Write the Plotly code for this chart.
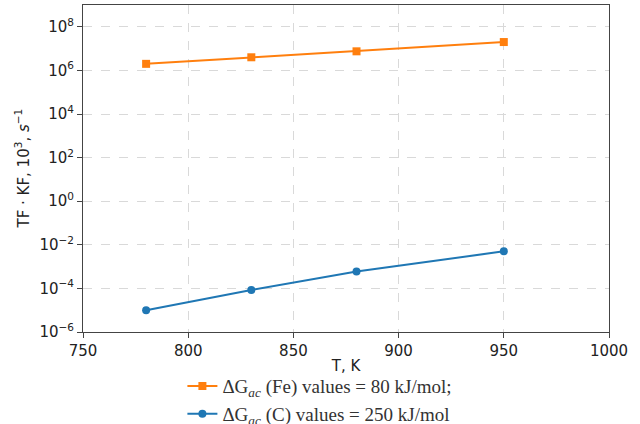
import plotly.graph_objects as go

T = [780, 830, 880, 950]
fe_values = [2.0e6, 4.0e6, 7.5e6, 2.0e7]
c_values = [1.0e-5, 8.5e-5, 6.0e-4, 5.0e-3]
y_tickvals = [1e-6, 1e-4, 1e-2, 1e0, 1e2, 1e4, 1e6, 1e8]
y_ticktext = ["10<sup>−6</sup>", "10<sup>−4</sup>", "10<sup>−2</sup>", "10<sup>0</sup>",
              "10<sup>2</sup>", "10<sup>4</sup>", "10<sup>6</sup>", "10<sup>8</sup>"]
x_tickvals = [750, 800, 850, 900, 950, 1000]
fe_name = "ΔG<sub><i>ac</i></sub> (Fe) values = 80 kJ/mol;"
c_name = "ΔG<sub><i>ac</i></sub> (C) values = 250 kJ/mol"
y_title = "TF · KF, 10<sup>3</sup>, <i>s</i><sup>−1</sup>"

fig = go.Figure()
fig.add_trace(go.Scatter(x=T, y=fe_values, mode="lines+markers", name=fe_name,
                         line=dict(color="#ff7f0e", width=2),
                         marker=dict(symbol="square", size=8, color="#ff7f0e")))
fig.add_trace(go.Scatter(x=T, y=c_values, mode="lines+markers", name=c_name,
                         line=dict(color="#1f77b4", width=2),
                         marker=dict(symbol="circle", size=8, color="#1f77b4")))

axis_common = dict(showline=True, linecolor="#444", linewidth=1, mirror=True,
                   ticks="outside", ticklen=5, tickcolor="#444",
                   tickangle=0,
                   showgrid=True, gridcolor="#d9d9d9", griddash="dash", gridwidth=1,
                   zeroline=False, tickfont=dict(family="DejaVu Sans", size=15, color="#222"))

fig.update_layout(
    width=640, height=424,
    margin=dict(l=83, r=31, t=5, b=92, autoexpand=False),
    paper_bgcolor="white", plot_bgcolor="white",
    font=dict(family="DejaVu Sans", size=15, color="#222"),
    xaxis=dict(range=[750, 1000], tickvals=x_tickvals,
               title=dict(text="T, K", standoff=1, font=dict(size=15)), **axis_common),
    yaxis=dict(type="log", range=[-6, 9], tickvals=y_tickvals, ticktext=y_ticktext,
               **axis_common),
    legend=dict(orientation="v", x=0.285, xanchor="left", xref="container",
                y=0.134, yanchor="top", yref="container", itemwidth=30,
                font=dict(family="Liberation Serif", size=19, color="#333"),
                bgcolor="rgba(0,0,0,0)", tracegroupgap=0),
    showlegend=True,
    annotations=[dict(text=y_title, xref="paper", yref="paper", x=-0.116, y=0.5,
                      xanchor="center", yanchor="middle", textangle=-90, showarrow=False,
                      font=dict(family="DejaVu Sans", size=15, color="#222"))],
)

fig.write_html("out.html", post_script="document.body.style.margin='0';",
               config={"displayModeBar": False})
